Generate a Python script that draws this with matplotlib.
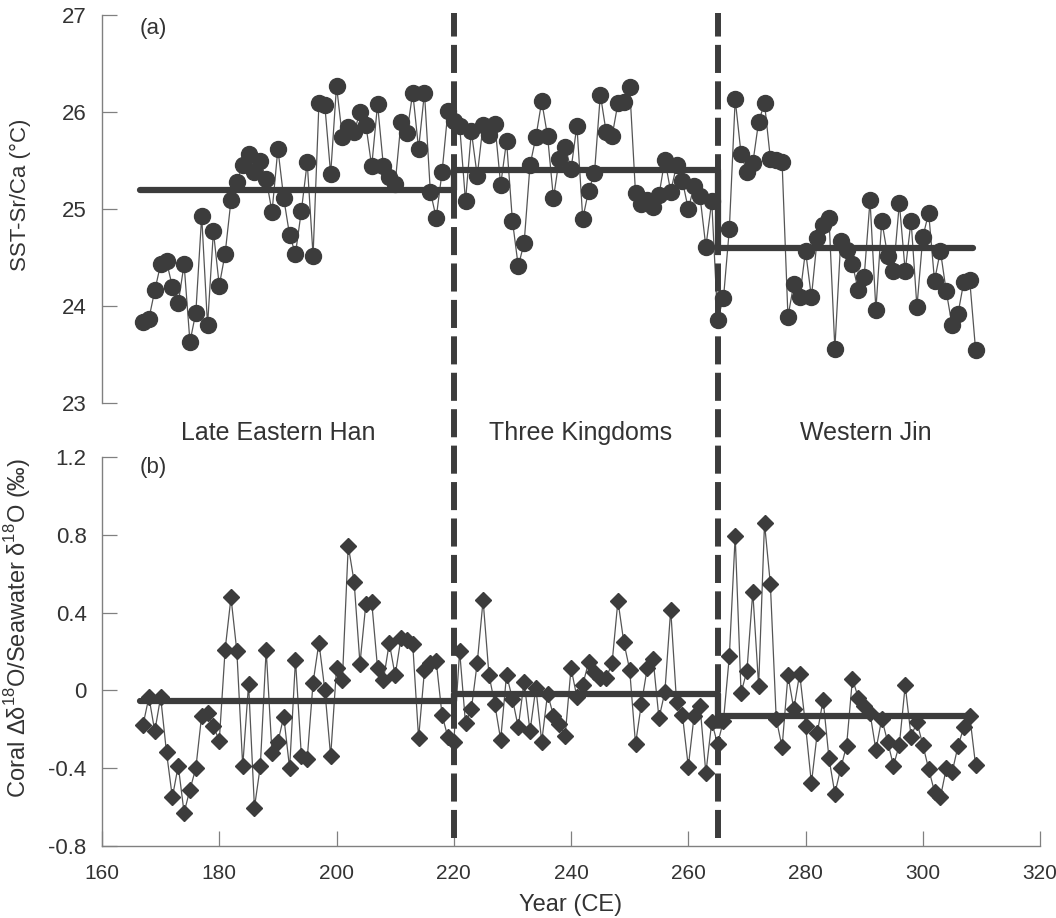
import matplotlib
matplotlib.use("Agg")
import matplotlib.pyplot as plt
from matplotlib.lines import Line2D
from matplotlib.transforms import blended_transform_factory

plt.rcParams['font.family'] = ['Liberation Sans', 'DejaVu Sans']
plt.rcParams['mathtext.fontset'] = 'custom'
plt.rcParams['mathtext.rm'] = 'Liberation Sans'

years = list(range(167, 310))

# SST from coral Sr/Ca, one value per year 167-309
sst = [
    23.83, 23.87, 24.16, 24.43, 24.46, 24.20, 24.03, 24.43, 23.63, 23.93,
    24.93, 23.80, 24.77, 24.21, 24.54, 25.09, 25.28, 25.45, 25.57, 25.38,
    25.49, 25.31, 24.97, 25.62, 25.11, 24.73, 24.54, 24.98, 25.48, 24.52,
    26.09, 26.07, 25.36, 26.27, 25.74, 25.85, 25.79, 26.00, 25.87, 25.44,
    26.08, 25.44, 25.33, 25.26, 25.90, 25.78, 26.20, 25.62, 26.20, 25.18,
    24.91, 25.38, 26.01,
    25.91, 25.86, 25.08, 25.80, 25.34, 25.87, 25.76, 25.88, 25.25, 25.70,
    24.88, 24.41, 24.65, 25.45, 25.74, 26.11, 25.75, 25.11, 25.52, 25.64,
    25.41, 25.86, 24.90, 25.19, 25.37, 26.18, 25.79, 25.75, 26.09, 26.10,
    26.26, 25.16, 25.05, 25.09, 25.02, 25.14, 25.51, 25.18, 25.45, 25.29,
    25.00, 25.24, 25.13, 24.61, 25.08, 23.86, 24.08, 24.79, 26.13, 25.57,
    25.38, 25.47, 25.90, 26.09, 25.52, 25.50, 25.48, 23.89, 24.23, 24.09,
    24.57, 24.09, 24.70, 24.84, 24.91, 23.56, 24.67, 24.58, 24.43, 24.16,
    24.30, 25.09, 23.96, 24.88, 24.52, 24.36, 25.06, 24.36, 24.88, 23.99,
    24.71, 24.96, 24.26, 24.57, 24.15, 23.80, 23.92, 24.25, 24.27, 23.55,
]

# coral d18O / seawater d18O anomaly
d18o = [
    -0.177, -0.034, -0.21, -0.034, -0.318, -0.55, -0.387, -0.628, -0.51, -0.40,
    -0.129, -0.117, -0.184, -0.258, 0.21, 0.478, 0.201, -0.39, 0.034, -0.602,
    -0.39, 0.21, -0.323, -0.266, -0.134, -0.40, 0.158, -0.335, -0.353, 0.04,
    0.246, 0.004, -0.339, 0.115, 0.055, 0.745, 0.559, 0.138, 0.444, 0.456,
    0.115, 0.055, 0.244, 0.077, 0.27, 0.258, 0.237, -0.246, 0.103, 0.141,
    0.151, -0.126, -0.241,
    -0.267, 0.203, -0.169, -0.095, 0.141, 0.464, 0.081, -0.072, -0.253, 0.081,
    -0.043, -0.189, 0.046, -0.21, 0.014, -0.263, -0.017, -0.129, -0.172, -0.232,
    0.115, -0.034, 0.029, 0.146, 0.094, 0.064, 0.064, 0.141, 0.461, 0.249,
    0.107, -0.275, -0.069, 0.115, 0.16, -0.143, -0.009, 0.416, -0.06, -0.126,
    -0.392, -0.129, -0.081, -0.425, -0.163, -0.275, -0.155, 0.175, 0.795, -0.012,
    0.10, 0.507, 0.022, 0.86, 0.547, -0.146, -0.292, 0.077, -0.095, 0.086,
    -0.181, -0.478, -0.218, -0.048, -0.349, -0.53, -0.401, -0.284, 0.06, -0.038,
    -0.081, -0.117, -0.306, -0.146, -0.263, -0.387, -0.279, 0.026, -0.237, -0.163,
    -0.279, -0.404, -0.521, -0.55, -0.401, -0.421, -0.287, -0.189, -0.129, -0.383,
]

# period boundaries and period means
bounds = [166.5, 220, 265, 308.6]
periods = ["Late Eastern Han", "Three Kingdoms", "Western Jin"]
period_x = [190, 241.7, 290.3]
sst_mean = [25.2, 25.4, 24.6]
d18o_mean = [-0.052, -0.017, -0.132]

dark = '#3c3c3c'
grey = '#808080'
txt = '#333333'


def step_xy(b, m):
    xs, ys = [], []
    for i in range(len(m)):
        xs += [b[i], b[i + 1]]
        ys += [m[i], m[i]]
    return xs, ys


fig = plt.figure(figsize=(10.56, 9.18), dpi=100)
ax1 = fig.add_axes([0.0966, 0.561, 0.8883, 0.4227])
ax2 = fig.add_axes([0.0966, 0.0784, 0.8883, 0.4237])

ax1.plot(years, sst, '-', color='#555555', lw=0.9, zorder=2)
ax1.plot(years, sst, 'o', color=dark, ms=11.5, zorder=3)
sx, sy = step_xy(bounds, sst_mean)
ax1.plot(sx, sy, '-', color=dark, lw=4.5, solid_capstyle='round', zorder=4)

ax2.plot(years, d18o, '-', color='#555555', lw=0.9, zorder=2)
ax2.plot(years, d18o, 'D', color=dark, ms=8.5, zorder=3)
dx, dy = step_xy(bounds, d18o_mean)
ax2.plot(dx, dy, '-', color=dark, lw=4.5, solid_capstyle='round', zorder=4)

for ax in (ax1, ax2):
    ax.set_xlim(160, 320)
    ax.spines['top'].set_visible(False)
    ax.spines['right'].set_visible(False)
    for s in ax.spines.values():
        s.set_color(grey)
        s.set_linewidth(1.0)
    ax.tick_params(direction='in', length=11, width=0.9, color=grey,
                   labelsize=16, labelcolor=txt, pad=11)

ax1.spines['bottom'].set_visible(False)
ax1.tick_params(bottom=False, labelbottom=False)
ax1.set_ylim(23, 27)
ax1.set_yticks([23, 24, 25, 26, 27])

ax2.set_ylim(-0.8, 1.2)
ax2.set_yticks([-0.8, -0.4, 0, 0.4, 0.8, 1.2])
ax2.set_yticklabels(['-0.8', '-0.4', '0', '0.4', '0.8', '1.2'])
ax2.set_xticks(range(160, 321, 20))
ax2.tick_params(axis='x', pad=13, labelsize=15)

ax1.set_ylabel('SST-Sr/Ca (°C)', fontsize=16, color=txt)
ax1.yaxis.set_label_coords(-0.076, 0.536)
ax2.set_ylabel('Coral Δδ$^{18}$O/Seawater δ$^{18}$O (‰)', fontsize=17, color=txt)
ax2.yaxis.set_label_coords(-0.074, 0.56)
ax2.set_xlabel('Year (CE)', fontsize=17, color=txt, labelpad=8)

ax1.text(166.5, 0.966, '(a)', transform=blended_transform_factory(ax1.transData, ax1.transAxes),
         fontsize=16, color=txt, va='center')
ax2.text(166.5, 0.972, '(b)', transform=blended_transform_factory(ax2.transData, ax2.transAxes),
         fontsize=16, color=txt, va='center')

trans = blended_transform_factory(ax2.transData, fig.transFigure)
for name, x in zip(periods, period_x):
    fig.text(x, 1 - 433 / 918, name, transform=trans, fontsize=18, color=txt,
             ha='center', va='center')

for x in bounds[1:3]:
    fig.add_artist(Line2D([x, x], [0.087, 0.986], transform=trans, color=dark,
                          lw=4.3, linestyle=(0, (4.7, 1.4)), zorder=5))

fig.savefig('out.png', dpi=100)
